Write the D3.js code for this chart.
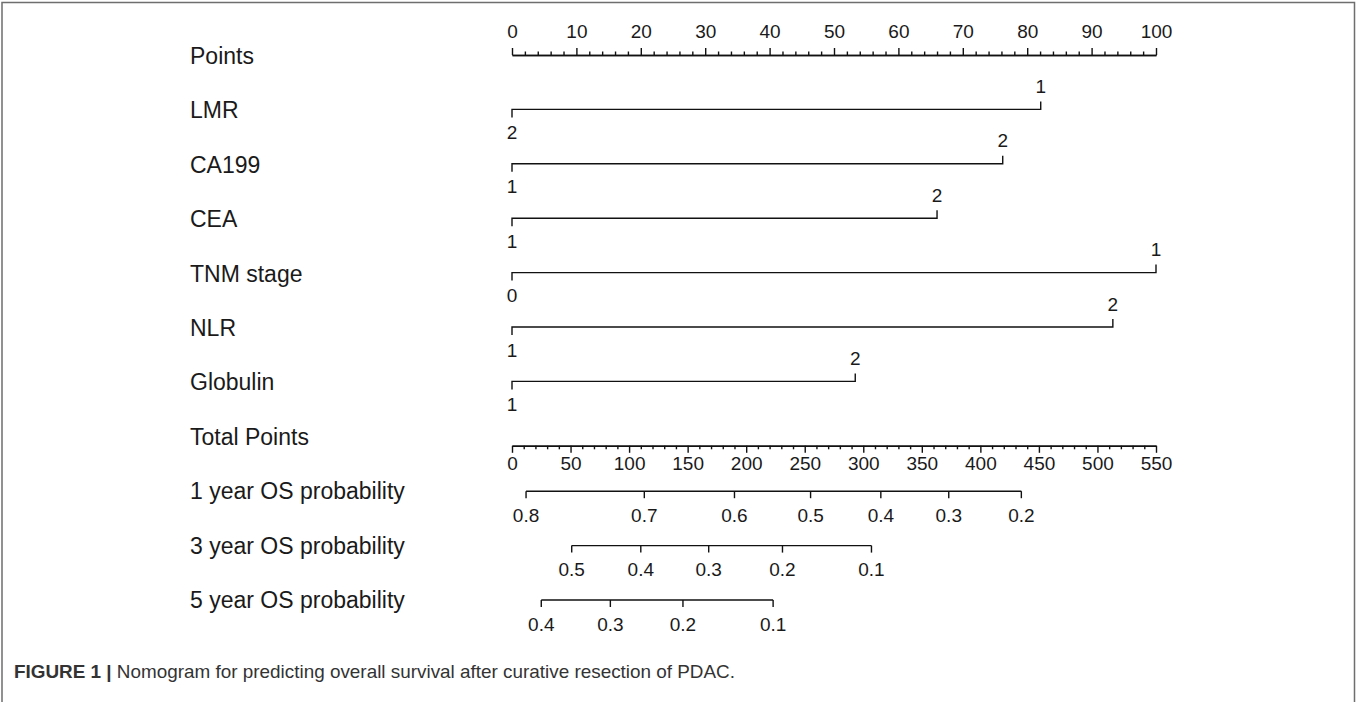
<!DOCTYPE html>
<html>
<head>
<meta charset="utf-8">
<script src="https://cdn.jsdelivr.net/npm/d3@7"></script>
<style>
  html, body { margin: 0; padding: 0; background: #fff; }
  svg { display: block; }
  text { font-family: "Liberation Sans", Arial, Helvetica, sans-serif; fill: #1a1a1a; }
</style>
</head>
<body>
<svg id="chart" width="1357" height="702"></svg>
<script>
// Nomogram for overall survival after curative resection of PDAC

const rowLabels = ["Points", "LMR", "CA199", "CEA", "TNM stage", "NLR", "Globulin",
  "Total Points", "1 year OS probability", "3 year OS probability", "5 year OS probability"];

// Predictor scales: points assigned to the lower and upper category
const predictors   = ["LMR", "CA199", "CEA", "TNM stage", "NLR", "Globulin"];
const predLowCat   = ["2", "1", "1", "0", "1", "1"];
const predHighCat  = ["1", "2", "2", "1", "2", "2"];
const predLowPts   = [0, 0, 0, 0, 0, 0];
const predHighPts  = [82.1, 76.2, 66.0, 100, 93.3, 53.3];

// Points axis ticks
const pointMajor = [0, 10, 20, 30, 40, 50, 60, 70, 80, 90, 100];
const pointMinor = [2, 4, 6, 8, 12, 14, 16, 18, 22, 24, 26, 28, 32, 34, 36, 38, 42, 44, 46, 48,
  52, 54, 56, 58, 62, 64, 66, 68, 72, 74, 76, 78, 82, 84, 86, 88, 92, 94, 96, 98];

// Total points axis ticks
const totalMajor = [0, 50, 100, 150, 200, 250, 300, 350, 400, 450, 500, 550];
const totalMinor = [10, 20, 30, 40, 60, 70, 80, 90, 110, 120, 130, 140, 160, 170, 180, 190,
  210, 220, 230, 240, 260, 270, 280, 290, 310, 320, 330, 340, 360, 370, 380, 390,
  410, 420, 430, 440, 460, 470, 480, 490, 510, 520, 530, 540];

// Survival probability scales: probability labels and their total points
const os1Prob  = ["0.8", "0.7", "0.6", "0.5", "0.4", "0.3", "0.2"];
const os1Total = [12, 113, 190, 255, 315, 373, 435];
const os3Prob  = ["0.5", "0.4", "0.3", "0.2", "0.1"];
const os3Total = [51, 110, 168, 231, 307];
const os5Prob  = ["0.4", "0.3", "0.2", "0.1"];
const os5Total = [25, 84, 146, 223];

const captionBold = "FIGURE 1 |";
const captionText = "Nomogram for predicting overall survival after curative resection of PDAC.";

// ---- layout ----
const svg = d3.select("#chart");
const W = 1357, H = 702;
const xLeft = 512, xRight = 1156;
const labelX = 190;
const labelSize = 23;
const tickSize = 19;
const rowY = d3.scaleLinear().domain([0, 10]).range([56, 600]);

const xPts = d3.scaleLinear().domain([0, 100]).range([xLeft, xRight]);
const xTot = d3.scaleLinear().domain([0, 550]).range([xLeft, xRight]);

// frame
svg.append("path")
  .attr("d", `M2,${H} L2,2.5 L1354.5,2.5 L1354.5,${H}`)
  .attr("fill", "none").attr("stroke", "#6e6e6e").attr("stroke-width", 1.5);

// row labels
svg.append("g").selectAll("text").data(rowLabels).join("text")
  .attr("x", labelX)
  .attr("y", (d, i) => rowY(i))
  .attr("dy", "0.35em")
  .attr("font-size", labelSize)
  .text(d => d);

function styleAxis(g) {
  g.select(".domain").attr("stroke", "#111").attr("stroke-width", 1.4);
  g.selectAll(".tick line").attr("stroke", "#111").attr("stroke-width", 1.4);
  g.selectAll(".tick text").attr("font-size", tickSize).attr("fill", "#1a1a1a")
    .attr("font-family", '"Liberation Sans", Arial, sans-serif');
}

// Points axis (ticks up)
const yPoints = rowY(0) - 1;
svg.append("g").attr("transform", `translate(0,${yPoints})`)
  .call(d3.axisTop(xPts).tickValues(pointMinor).tickSize(3.5).tickSizeOuter(0).tickFormat(""))
  .call(styleAxis);
svg.append("g").attr("transform", `translate(0,${yPoints})`)
  .call(d3.axisTop(xPts).tickValues(pointMajor).tickSize(7).tickSizeOuter(0).tickPadding(10))
  .call(styleAxis);

// predictor scales
predictors.forEach((name, k) => {
  const y = rowY(k + 1) - 1;
  const g = svg.append("g");
  const xa = xPts(predLowPts[k]), xb = xPts(predHighPts[k]);
  g.append("path")
    .attr("d", `M${xa},${y + 8} L${xa},${y} L${xb},${y} L${xb},${y - 8}`)
    .attr("fill", "none").attr("stroke", "#111").attr("stroke-width", 1.4);
  g.append("text").attr("x", xa).attr("y", y + 23).attr("dy", "0.35em")
    .attr("text-anchor", "middle").attr("font-size", tickSize).text(predLowCat[k]);
  g.append("text").attr("x", xb).attr("y", y - 23).attr("dy", "0.35em")
    .attr("text-anchor", "middle").attr("font-size", tickSize).text(predHighCat[k]);
});

// Total points axis (ticks down)
const yTotal = rowY(7) + 9;
svg.append("g").attr("transform", `translate(0,${yTotal})`)
  .call(d3.axisBottom(xTot).tickValues(totalMinor).tickSize(3.5).tickSizeOuter(0).tickFormat(""))
  .call(styleAxis);
svg.append("g").attr("transform", `translate(0,${yTotal})`)
  .call(d3.axisBottom(xTot).tickValues(totalMajor).tickSize(7).tickSizeOuter(0).tickPadding(4))
  .call(styleAxis);

// survival probability scales (ticks down)
[[os1Prob, os1Total], [os3Prob, os3Total], [os5Prob, os5Total]].forEach(([probs, totals], k) => {
  const y = rowY(8 + k);
  const g = svg.append("g").attr("transform", `translate(0,${y})`);
  g.append("line")
    .attr("x1", xTot(d3.min(totals))).attr("x2", xTot(d3.max(totals)))
    .attr("stroke", "#111").attr("stroke-width", 1.4);
  const t = g.selectAll("g.t").data(probs).join("g").attr("class", "t")
    .attr("transform", (d, i) => `translate(${xTot(totals[i])},0)`);
  t.append("line").attr("y2", 7).attr("stroke", "#111").attr("stroke-width", 1.4);
  t.append("text").attr("y", 24).attr("dy", "0.35em")
    .attr("text-anchor", "middle").attr("font-size", tickSize).text(d => d);
});

// caption
const cap = svg.append("text").attr("x", 14).attr("y", 678)
  .attr("font-size", 18.5).attr("fill", "#333")
  .attr("textLength", 721).attr("lengthAdjust", "spacingAndGlyphs");
cap.append("tspan").attr("font-weight", "bold").attr("fill", "#333").text(captionBold);
cap.append("tspan").attr("fill", "#333").text(" " + captionText);
</script>
</body>
</html>
